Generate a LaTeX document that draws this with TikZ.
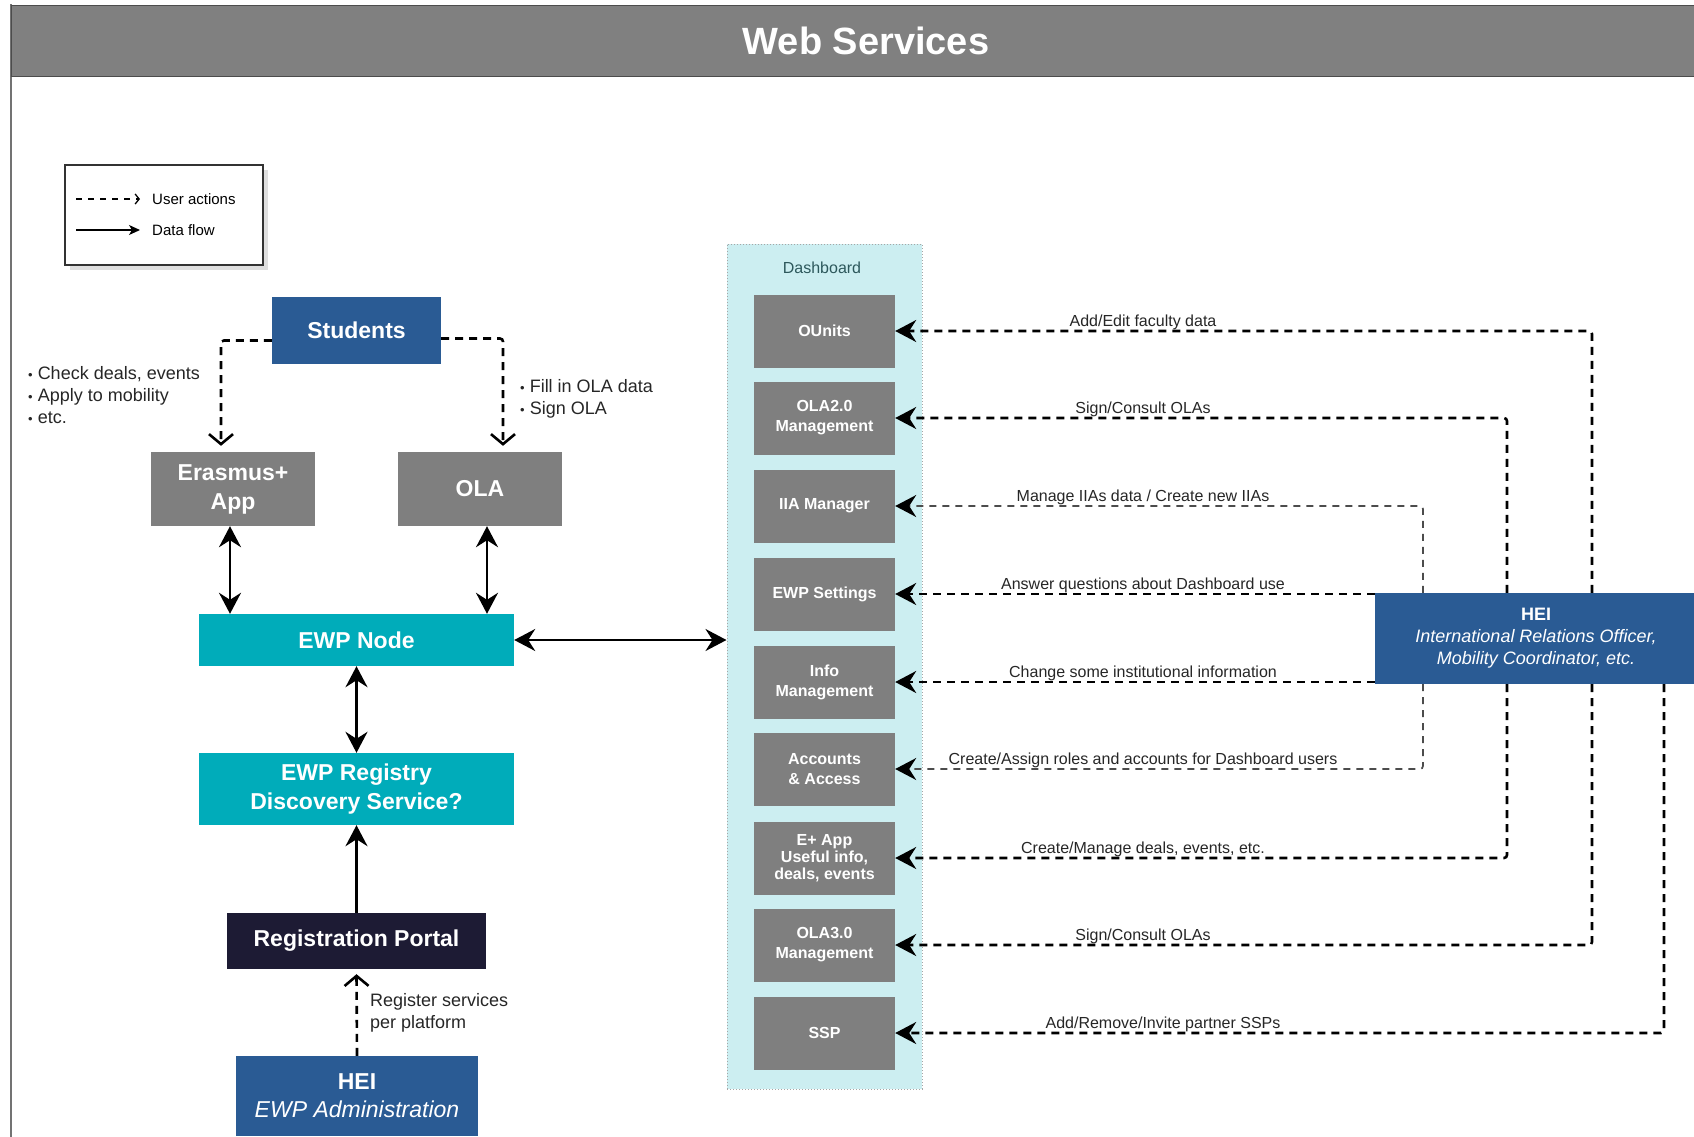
\documentclass[tikz,border=0pt]{standalone}
\usepackage{fontspec}
\setmainfont{Liberation Sans}
\usetikzlibrary{arrows.meta,shadows}

\definecolor{barGray}{RGB}{128,128,128}
\definecolor{boxGray}{RGB}{127,127,127}
\definecolor{stuBlue}{RGB}{42,91,148}
\definecolor{ewpTeal}{RGB}{0,172,186}
\definecolor{portalNavy}{RGB}{29,27,52}
\definecolor{dashCyan}{RGB}{204,238,241}
\definecolor{dashText}{RGB}{45,88,92}

\newcommand{\fs}[2]{\fontsize{#1}{#2}\selectfont}
\newcommand{\itembul}{{\fs{13}{13}\textbullet}\ }

\tikzset{
	box/.style={fill=#1, text=white, inner sep=0pt, align=center},
	bigbox/.style={box=#1, font=\bfseries\fs{23}{29}},
	dbitem/.style={box=boxGray, minimum width=141, minimum height=73, font=\bfseries\fs{16}{20}},
	note/.style={anchor=north west, inner sep=0pt, align=left, font=\fs{18}{22}, text=black!85},
	lbl/.style={anchor=base, inner sep=0pt, font=\fs{16}{19}, text=black!85},
	dataflow/.style={line width=2.4pt},
	useract/.style={line width=2.6pt, dash pattern=on 8pt off 6pt, rounded corners=3pt},
	userthin/.style={line width=1.7pt, black!70, dash pattern=on 7pt off 6pt, rounded corners=3pt},
	stl/.tip={Stealth[length=21pt,width=22pt,inset=7pt,color=black]},
	barb/.tip={Straight Barb[length=10pt,width=24pt]}
}

\begin{document}
\begin{tikzpicture}[x=1pt,y=-1pt]
	\useasboundingbox (0,0) rectangle (1694,1136);
	\draw[black!55, line width=1.2pt] (11,4) -- (11,1140);
	\node[fill=barGray, draw=black!70, line width=1pt, minimum width=1710, minimum height=71, text=white, font=\bfseries\fs{38}{40}] (title) at (866,40.5) {Web Services};

	\node[draw=black!80, line width=1.2pt, fill=white, minimum width=198, minimum height=100, drop shadow={opacity=0.25, shadow xshift=5pt, shadow yshift=-5pt}] (legend) at (164,215) {};
	\coordinate (ua1) at (76,199);
	\coordinate (ua2) at (140,199);
	\coordinate (df1) at (76,230);
	\coordinate (df2) at (140,230);
	\draw[line width=1.3pt, dash pattern=on 6pt off 6pt, -{Straight Barb[length=4pt,width=10pt]}] (ua1) -- (ua2);
	\draw[line width=1.3pt, -{Stealth[length=11pt,width=10pt,inset=3pt]}] (df1) -- (df2);
	\node[anchor=west, inner sep=0pt, font=\fs{15}{18}] (ualbl) at (152,199) {User actions};
	\node[anchor=west, inner sep=0pt, font=\fs{15}{18}] (dflbl) at (152,230) {Data flow};

	\node[bigbox=stuBlue, minimum width=169, minimum height=67] (students) at (356.5,330.5) {Students};
	\node[bigbox=boxGray, minimum width=164, minimum height=74] (erasmus) at (233,489) {Erasmus+\\App};
	\node[bigbox=boxGray, minimum width=164, minimum height=74] (ola) at (480,489) {OLA};
	\node[bigbox=ewpTeal, minimum width=315, minimum height=52] (ewpnode) at (356.5,640) {EWP Node};
	\node[bigbox=ewpTeal, minimum width=315, minimum height=72] (registry) at (356.5,789) {EWP Registry\\Discovery Service?};
	\node[bigbox=portalNavy, minimum width=259, minimum height=56] (portal) at (356.5,941) {Registration Portal};
	\node[box=stuBlue, minimum width=242, minimum height=80, font=\fs{23}{28}] (heiadmin) at (357,1096) {\textbf{HEI}\\\textit{EWP Administration}};

	\node[note] (stunote) at (28,366) {\itembul Check deals, events\\\itembul Apply to mobility\\\itembul etc.};
	\node[note] (olanote) at (520,379) {\itembul Fill in OLA data\\\itembul Sign OLA};
	\node[note] (regnote) at (370,993) {Register services\\per platform};

	\draw[useract, -barb] ([yshift=-10pt]students.west) -| ([xshift=-12pt,yshift=6pt]erasmus.north);
	\draw[useract, -barb] ([yshift=-8pt]students.east) -| ([xshift=23pt,yshift=6pt]ola.north);
	\draw[dataflow, stl-stl] ([xshift=-3pt]erasmus.south) -- ([xshift=-3pt]erasmus.south |- ewpnode.north);
	\draw[dataflow, stl-stl] ([xshift=7pt]ola.south) -- ([xshift=7pt]ola.south |- ewpnode.north);
	\draw[dataflow, stl-stl] (ewpnode.south) -- (registry.north);
	\draw[dataflow, -stl] (portal.north) -- (registry.south);
	\draw[useract, -barb] (heiadmin.north) -- ([yshift=-5pt]portal.south);

	\node[draw=black!35, dotted, line width=1pt, fill=dashCyan, minimum width=195, minimum height=845] (dashboard) at (824.5,666.5) {};
	\node[text=dashText, font=\fs{16}{19}] (dashlbl) at (822,268) {Dashboard};
	\draw[dataflow, stl-stl] (ewpnode.east) -- (dashboard.west |- ewpnode.east);

	\node[dbitem] (ounits) at (824.5,331) {OUnits};
	\node[dbitem] (ola2) at (824.5,418) {OLA2.0\\Management};
	\node[dbitem] (iia) at (824.5,506) {IIA Manager};
	\node[dbitem] (settings) at (824.5,594) {EWP Settings};
	\node[dbitem] (info) at (824.5,682) {Info\\Management};
	\node[dbitem] (accounts) at (824.5,769) {Accounts\\\& Access};
	\node[dbitem, font=\bfseries\fs{16}{17}] (eapp) at (824.5,858) {E+ App\\Useful info,\\deals, events};
	\node[dbitem] (ola3) at (824.5,945) {OLA3.0\\Management};
	\node[dbitem] (ssp) at (824.5,1033) {SSP};

	\node[box=stuBlue, minimum width=322, minimum height=91, font=\fs{18}{22}] (heiR) at (1536,638.5) {\textbf{HEI}\\\textit{International Relations Officer,}\\\textit{Mobility Coordinator, etc.}};
	\coordinate (vA) at (1592,0);
	\coordinate (vB) at (1507,0);
	\coordinate (vC) at (1423,0);
	\coordinate (vD) at (1664,0);

	\draw[useract, -stl] (heiR.north -| vA) |- (ounits.east);
	\draw[useract, -stl] (heiR.north -| vB) |- (ola2.east);
	\draw[userthin, -stl] (heiR.north -| vC) |- (iia.east);
	\draw[useract, -stl] (heiR.west |- settings.east) -- (settings.east);
	\draw[useract, -stl] (heiR.west |- info.east) -- (info.east);
	\draw[userthin, -stl] (heiR.south -| vC) |- (accounts.east);
	\draw[useract, -stl] (heiR.south -| vB) |- (eapp.east);
	\draw[useract, -stl] (heiR.south -| vA) |- (ola3.east);
	\draw[useract, -stl] (heiR.south -| vD) |- (ssp.east);

	\node[lbl] (l1) at (1143,326) {Add/Edit faculty data};
	\node[lbl] (l2) at (1143,413) {Sign/Consult OLAs};
	\node[lbl] (l3) at (1143,501) {Manage IIAs data / Create new IIAs};
	\node[lbl] (l4) at (1143,589) {Answer questions about Dashboard use};
	\node[lbl] (l5) at (1143,677) {Change some institutional information};
	\node[lbl] (l6) at (1143,764) {Create/Assign roles and accounts for Dashboard users};
	\node[lbl] (l7) at (1143,853) {Create/Manage deals, events, etc.};
	\node[lbl] (l8) at (1143,940) {Sign/Consult OLAs};
	\node[lbl] (l9) at (1163,1028) {Add/Remove/Invite partner SSPs};
\end{tikzpicture}
\end{document}
